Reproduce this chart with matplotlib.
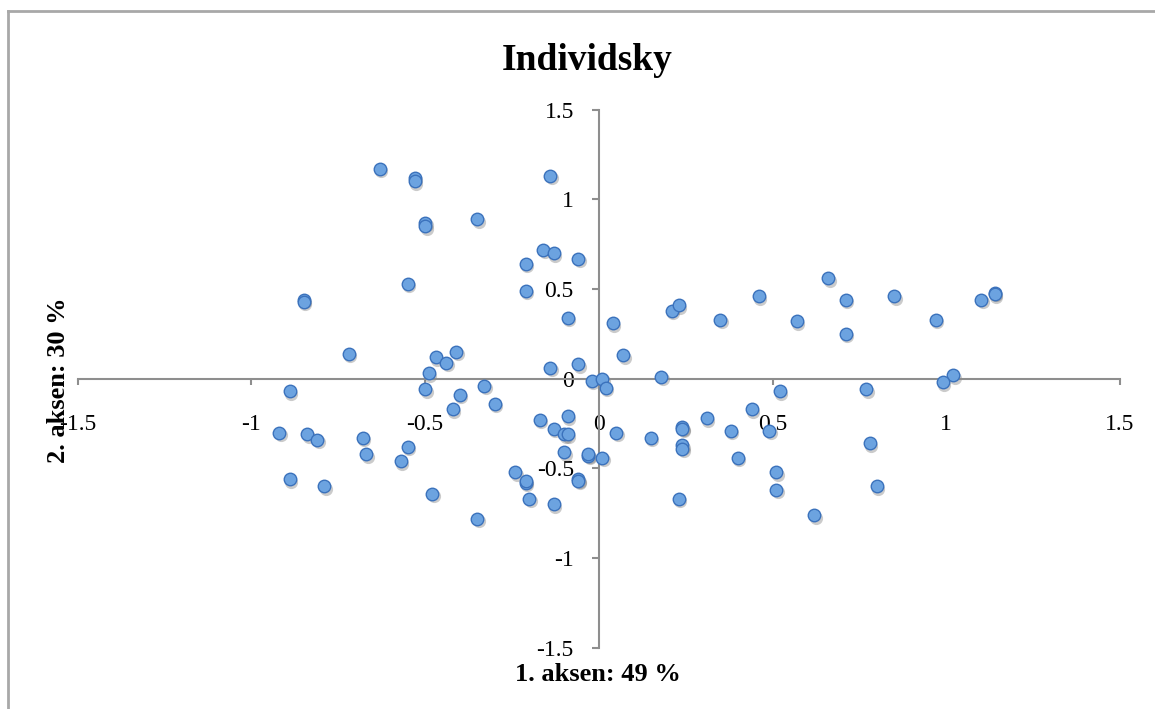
import matplotlib
matplotlib.use("Agg")
import matplotlib.pyplot as plt
from matplotlib.lines import Line2D
from matplotlib.transforms import offset_copy

# Individual coordinates on the first two axes
x_vals = [-0.63, -0.53, -0.53, -0.50, -0.50, -0.55, -0.85, -0.85, -0.72, -0.47,
          -0.44, -0.41, -0.49, -0.89, -0.50, -0.14, -0.35, -0.16, -0.13, -0.06,
          -0.21, -0.21, -0.09, 0.04, 0.21, 0.23, 0.35, 0.46, 0.57, 0.07,
          -0.14, -0.06, -0.02, 0.01, 0.02, 0.18, 0.52, -0.33, -0.40, 0.66,
          0.71, 0.85, 0.71, 0.97, 1.10, 1.14, 1.14, 1.02, 0.99, 0.77,
          -0.92, -0.84, -0.81, -0.68, -0.67, -0.55, -0.57, -0.89, -0.79, -0.30,
          -0.42, -0.17, -0.09, -0.13, -0.10, -0.09, -0.10, -0.03, -0.03, 0.01,
          0.05, 0.15, 0.24, 0.24, 0.24, 0.24, 0.31, 0.38, 0.44, 0.49,
          0.40, 0.51, 0.51, 0.62, 0.23, -0.24, -0.21, -0.21, -0.06, -0.06,
          -0.20, -0.13, -0.48, -0.35, 0.78, 0.80]
y_vals = [1.17, 1.12, 1.10, 0.87, 0.85, 0.53, 0.44, 0.43, 0.14, 0.12,
          0.09, 0.15, 0.03, -0.07, -0.06, 1.13, 0.89, 0.72, 0.70, 0.67,
          0.64, 0.49, 0.34, 0.31, 0.38, 0.41, 0.33, 0.46, 0.32, 0.13,
          0.06, 0.08, -0.01, 0.00, -0.05, 0.01, -0.07, -0.04, -0.09, 0.56,
          0.44, 0.46, 0.25, 0.33, 0.44, 0.48, 0.47, 0.02, -0.02, -0.06,
          -0.30, -0.31, -0.34, -0.33, -0.42, -0.38, -0.46, -0.56, -0.60, -0.14,
          -0.17, -0.23, -0.21, -0.28, -0.31, -0.31, -0.41, -0.43, -0.42, -0.44,
          -0.30, -0.33, -0.27, -0.28, -0.37, -0.39, -0.22, -0.29, -0.17, -0.29,
          -0.44, -0.52, -0.62, -0.76, -0.67, -0.52, -0.58, -0.57, -0.56, -0.57,
          -0.67, -0.70, -0.64, -0.78, -0.36, -0.60]

ticks = [-1.5, -1, -0.5, 0, 0.5, 1, 1.5]
tick_labels = ["-1.5", "-1", "-0.5", "0", "0.5", "1", "1.5"]

title = "Individsky"
x_label = "1. aksen: 49 %"
y_label = "2. aksen: 30 %"

serif = "Liberation Serif"
axis_grey = "#8E8E8E"

fig = plt.figure(figsize=(11.55, 7.09), dpi=100)
ax = fig.add_axes([0.0673, 0.0863, 0.9024, 0.7591])

# soft drop shadow under the markers, then the markers themselves
shadow = offset_copy(ax.transData, fig=fig, x=1.5, y=-2.5, units="dots")
ax.plot(x_vals, y_vals, "o", ms=9.5, color="#555555", alpha=0.3, mec="none",
        transform=shadow, zorder=2)
ax.plot(x_vals, y_vals, "o", ms=9, mfc="#6CA3E0", mec="#3B72BC", mew=1.0,
        zorder=3)

ax.set_xlim(-1.5, 1.5)
ax.set_ylim(-1.5, 1.5)

# axes cross at zero, Excel style
for side in ("top", "right"):
    ax.spines[side].set_visible(False)
for side in ("left", "bottom"):
    ax.spines[side].set_position(("data", 0))
    ax.spines[side].set_color(axis_grey)
    ax.spines[side].set_linewidth(1.5)

ax.set_xticks(ticks)
ax.set_xticklabels(tick_labels)
ax.set_yticks(ticks)
ax.set_yticklabels(tick_labels)
ax.tick_params(axis="x", direction="out", length=4.5, width=1.5,
               color=axis_grey, pad=21, labelsize=17)
ax.tick_params(axis="y", direction="out", length=5, width=1.5,
               color=axis_grey, pad=13, labelsize=17)
for lab in ax.get_xticklabels() + ax.get_yticklabels():
    lab.set_family(serif)

fig.text(0.508, 0.9013, title, ha="center", va="baseline",
         fontsize=27, fontweight="bold", family=serif)
fig.text(0.518, 1 - 681 / 709, x_label, ha="center", va="baseline",
         fontsize=19, fontweight="bold", family=serif)
fig.text(0.051, 0.464, y_label, ha="center", va="center", rotation=90,
         fontsize=19, fontweight="bold", family=serif)

# grey frame of the chart area (top and left edges visible)
frame_grey = "#A8A8A8"
fig.add_artist(Line2D([8 / 1155, 1], [1 - 11 / 709, 1 - 11 / 709],
                      transform=fig.transFigure, color=frame_grey, lw=2))
fig.add_artist(Line2D([8 / 1155, 8 / 1155], [0, 1 - 11 / 709],
                      transform=fig.transFigure, color=frame_grey, lw=2))

fig.savefig("out.png", dpi=100)
